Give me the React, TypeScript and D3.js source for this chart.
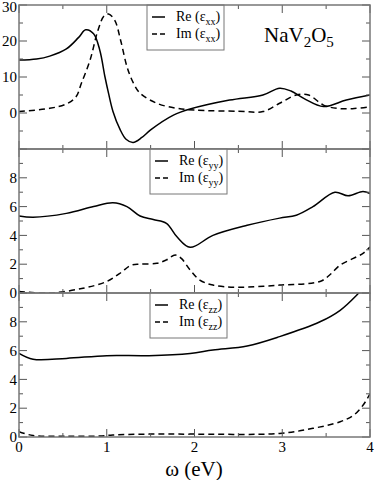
import React from 'react';
import * as d3 from 'd3';

// x axis (photon energy, eV)
const xTickValues = [0, 1, 2, 3, 4];
const xMinorValues = [0.5, 1.5, 2.5, 3.5];

// Panel 1 : eps_xx
const xxMajor = [-10, 0, 10, 20, 30];
const xxMinor = [-5, 5, 15, 25];
const xxLabels = [0, 10, 20, 30];
const reXXw = [0, 0.2, 0.35, 0.54, 0.68, 0.76, 0.85, 0.92, 0.98, 1.02, 1.07, 1.15, 1.22, 1.3, 1.4, 1.5, 1.76, 1.95, 2.4, 2.78, 2.97, 3.1, 3.25, 3.47, 3.73, 4.0];
const reXXv = [14.7, 15.0, 15.8, 17.8, 21, 23.1, 22, 17.5, 10, 5.5, 0.5, -4.5, -7.3, -8.2, -6.8, -4.7, -0.6, 1.1, 3.6, 5, 6.9, 6.1, 4.0, 1.8, 3.6, 5];
const imXXw = [0, 0.35, 0.54, 0.65, 0.71, 0.81, 0.9, 0.97, 1.02, 1.09, 1.16, 1.23, 1.3, 1.38, 1.57, 1.8, 2.0, 2.5, 2.78, 2.97, 3.16, 3.3, 3.47, 3.62, 3.8, 4.0];
const imXXv = [0.4, 1.3, 2.5, 4.5, 8.2, 14.7, 23, 27, 27.5, 25.8, 20, 12.9, 8.5, 5.5, 2.7, 1.3, 0.8, 0.5, 0.4, 2.7, 5, 5, 2.2, 1.3, 1.2, 1.75];

// Panel 2 : eps_yy
const yyMajor = [0, 2, 4, 6, 8, 10];
const yyMinor = [1, 3, 5, 7, 9];
const yyLabels = [0, 2, 4, 6, 8];
const reYYw = [0, 0.16, 0.54, 0.85, 1.07, 1.23, 1.38, 1.53, 1.68, 1.8, 1.95, 2.21, 2.6, 2.97, 3.16, 3.35, 3.6, 3.75, 3.92, 4.0];
const reYYv = [5.35, 5.26, 5.53, 6.0, 6.27, 6.0, 5.35, 5.1, 4.84, 3.9, 3.17, 4.0, 4.7, 5.2, 5.4, 6.0, 7.0, 6.75, 7.05, 6.9];
const imYYw = [0, 0.35, 0.73, 1.0, 1.15, 1.28, 1.38, 1.57, 1.68, 1.78, 1.85, 1.95, 2.06, 2.21, 2.48, 2.97, 3.43, 3.54, 3.66, 3.81, 3.92, 4.0];
const imYYv = [0.1, 0.0, 0.33, 0.8, 1.37, 1.94, 2.0, 2.06, 2.3, 2.64, 2.4, 1.6, 0.9, 0.55, 0.4, 0.55, 0.8, 1.25, 1.94, 2.4, 2.75, 3.2];

// Panel 3 : eps_zz
const zzMajor = [0, 2, 4, 6, 8, 10];
const zzMinor = [1, 3, 5, 7, 9];
const zzLabels = [0, 2, 4, 6, 8];
const reZZw = [0, 0.16, 0.54, 1.0, 1.48, 1.95, 2.21, 2.6, 2.97, 3.43, 3.66, 3.85, 4.0];
const reZZv = [5.8, 5.4, 5.46, 5.65, 5.65, 5.8, 6.04, 6.32, 6.97, 8.0, 8.8, 9.86, 10.9];
const imZZw = [0, 0.16, 0.54, 0.92, 1.07, 1.48, 1.95, 2.97, 3.35, 3.66, 3.81, 3.92, 4.0];
const imZZv = [0.37, 0.1, 0.05, 0.07, 0.14, 0.2, 0.2, 0.25, 0.6, 1.06, 1.5, 2.2, 3.0];

const zip = (w: number[], v: number[]) => w.map((d, i) => [d, v[i]] as [number, number]);

const FONT = 'Liberation Serif';

export default function App() {
  const W = 374, H = 480;
  const x0 = 19, x1 = 370;
  const x = d3.scaleLinear().domain([0, 4]).range([x0, x1]);
  const frame = '#777';
  const tickCol = '#555';

  const panels = [
    { top: 5, bottom: 149, domain: [-10, 30], major: xxMajor, minor: xxMinor, labels: xxLabels, re: zip(reXXw, reXXv), im: zip(imXXw, imXXv), sub: 'xx', lx: 147 },
    { top: 149, bottom: 293, domain: [0, 10], major: yyMajor, minor: yyMinor, labels: yyLabels, re: zip(reYYw, reYYv), im: zip(imYYw, imYYv), sub: 'yy', lx: 150 },
    { top: 293, bottom: 437, domain: [0, 10], major: zzMajor, minor: zzMinor, labels: zzLabels, re: zip(reZZw, reZZv), im: zip(imZZw, imZZv), sub: 'zz', lx: 150 },
  ];

  return (
    <svg width={W} height={H} style={{ position: 'absolute', left: 0, top: 0, background: '#fff' }}>
      <rect x={0} y={0} width={W} height={H} fill="#fff" />
      <defs>
        {panels.map((p, i) => (
          <clipPath id={`clip${i}`} key={i}>
            <rect x={x0} y={p.top} width={x1 - x0} height={p.bottom - p.top} />
          </clipPath>
        ))}
      </defs>
      {panels.map((p, i) => {
        const y = d3.scaleLinear().domain(p.domain).range([p.bottom, p.top]);
        const line = d3.line<[number, number]>()
          .x(d => x(d[0]))
          .y(d => y(d[1]))
          .curve(d3.curveCatmullRom.alpha(0.5));
        const lx = p.lx;
        const ly = p.top;
        return (
          <g key={i}>
            <g clipPath={`url(#clip${i})`}>
              <path d={line(p.im) || ''} fill="none" stroke="#000" strokeWidth={1.5} strokeDasharray="6,4" />
              <path d={line(p.re) || ''} fill="none" stroke="#000" strokeWidth={1.5} />
            </g>
            {p.major.map(v => (
              <g key={'ma' + v}>
                <line x1={x0} x2={x0 + 8} y1={y(v)} y2={y(v)} stroke={tickCol} strokeWidth={1} />
                <line x1={x1} x2={x1 - 8} y1={y(v)} y2={y(v)} stroke={tickCol} strokeWidth={1} />
              </g>
            ))}
            {p.minor.map(v => (
              <g key={'mi' + v}>
                <line x1={x0} x2={x0 + 4} y1={y(v)} y2={y(v)} stroke={tickCol} strokeWidth={1} />
                <line x1={x1} x2={x1 - 4} y1={y(v)} y2={y(v)} stroke={tickCol} strokeWidth={1} />
              </g>
            ))}
            {xTickValues.map(v => (
              <g key={'xa' + v}>
                <line x1={x(v)} x2={x(v)} y1={p.top} y2={p.top + 8} stroke={tickCol} strokeWidth={1} />
                <line x1={x(v)} x2={x(v)} y1={p.bottom} y2={p.bottom - 8} stroke={tickCol} strokeWidth={1} />
              </g>
            ))}
            {xMinorValues.map(v => (
              <g key={'xi' + v}>
                <line x1={x(v)} x2={x(v)} y1={p.top} y2={p.top + 4} stroke={tickCol} strokeWidth={1} />
                <line x1={x(v)} x2={x(v)} y1={p.bottom} y2={p.bottom - 4} stroke={tickCol} strokeWidth={1} />
              </g>
            ))}
            {p.labels.map(v => (
              <text key={'lb' + v} fontFamily={FONT} x={17} y={Math.max(y(v), 7)} dy="0.35em" textAnchor="end" fontSize={15} fill="#000">{v}</text>
            ))}
            <rect x={lx} y={ly} width={77} height={45} fill="#fff" stroke={frame} strokeWidth={1} />
            <line x1={lx + 5} x2={lx + 18} y1={ly + 12} y2={ly + 12} stroke="#000" strokeWidth={1.5} />
            <line x1={lx + 5} x2={lx + 19} y1={ly + 29} y2={ly + 29} stroke="#000" strokeWidth={1.5} strokeDasharray="5,3" />
            <text fontFamily={FONT} x={lx + 29} y={ly + 16} fontSize={14} fill="#000">
              Re (ε<tspan fontSize={10} dy={4}>{p.sub}</tspan><tspan dy={-4}>)</tspan>
            </text>
            <text fontFamily={FONT} x={lx + 29} y={ly + 33} fontSize={14} fill="#000">
              Im (ε<tspan fontSize={10} dy={4}>{p.sub}</tspan><tspan dy={-4}>)</tspan>
            </text>
            <rect x={x0} y={p.top} width={x1 - x0} height={p.bottom - p.top} fill="none" stroke={frame} strokeWidth={1.5} />
          </g>
        );
      })}
      <text fontFamily={FONT} x={264} y={42} fontSize={21} fill="#000">
        NaV<tspan fontSize={15} dy={5}>2</tspan><tspan dy={-5}>O</tspan><tspan fontSize={15} dy={5}>5</tspan>
      </text>
      {xTickValues.map(v => (
        <text fontFamily={FONT} key={'xl' + v} x={x(v)} y={452} textAnchor="middle" fontSize={15} fill="#000">{v}</text>
      ))}
      <text fontFamily={FONT} x={194} y={476} textAnchor="middle" fontSize={21} fill="#000">ω (eV)</text>
    </svg>
  );
}
